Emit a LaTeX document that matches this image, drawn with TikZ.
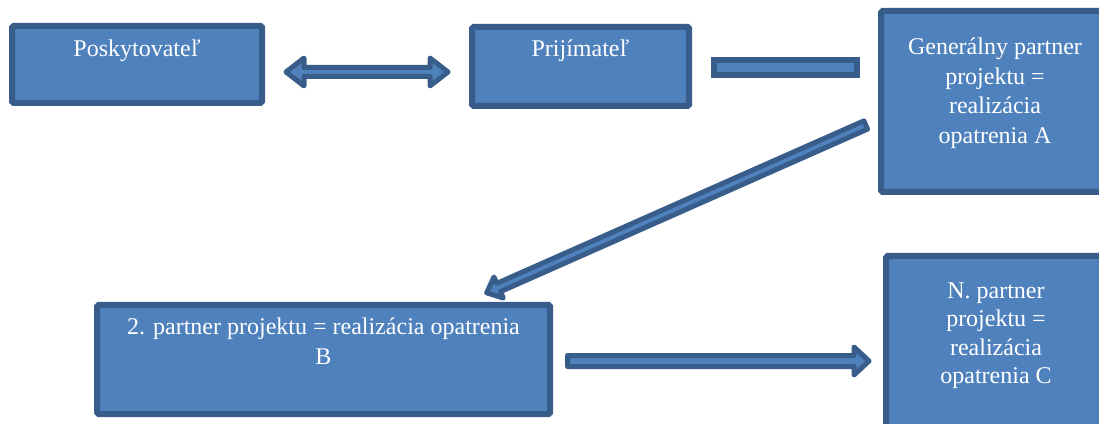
\documentclass[tikz,border=0pt]{standalone}
\usepackage{fontspec}
\setmainfont{Liberation Serif}
\usetikzlibrary{calc}
\definecolor{boxfill}{HTML}{4F81BD}
\definecolor{boxline}{HTML}{385D8A}
% single block arrow: #1 tail, #2 tip, #3 shaft half width, #4 head half width, #5 head length
\newcommand{\blkarrow}[5]{%
  \draw[barrow] let \p1=(#1), \p2=(#2), \n1={atan2(\y2-\y1,\x2-\x1)}, \n2={veclen(\x2-\x1,\y2-\y1)-#5} in
  ($(\p1)+(\n1+90:#3)$) -- ($(\p1)+(\n1:\n2)+(\n1+90:#3)$) -- ($(\p1)+(\n1:\n2)+(\n1+90:#4)$) -- (\p2)
  -- ($(\p1)+(\n1:\n2)+(\n1-90:#4)$) -- ($(\p1)+(\n1:\n2)+(\n1-90:#3)$) -- ($(\p1)+(\n1-90:#3)$) -- cycle;}
% double block arrow
\newcommand{\dblarrow}[5]{%
  \draw[barrow] let \p1=(#1), \p2=(#2), \n1={atan2(\y2-\y1,\x2-\x1)}, \n2={veclen(\x2-\x1,\y2-\y1)-#5} in
  (\p1) -- ($(\p1)+(\n1:#5)+(\n1+90:#4)$) -- ($(\p1)+(\n1:#5)+(\n1+90:#3)$) -- ($(\p1)+(\n1:\n2)+(\n1+90:#3)$)
  -- ($(\p1)+(\n1:\n2)+(\n1+90:#4)$) -- (\p2) -- ($(\p1)+(\n1:\n2)+(\n1-90:#4)$) -- ($(\p1)+(\n1:\n2)+(\n1-90:#3)$)
  -- ($(\p1)+(\n1:#5)+(\n1-90:#3)$) -- ($(\p1)+(\n1:#5)+(\n1-90:#4)$) -- cycle;}
\begin{document}
\begin{tikzpicture}[x=1pt,y=1pt,
  box/.style={draw=boxline, fill=boxfill, line width=6pt, rounded corners=1.5pt, inner sep=0pt},
  boxtext/.style={text=white, anchor=north, inner sep=0pt, align=center},
  barrow/.style={draw=boxline, fill=boxfill, line width=5pt, line join=round}]
\useasboundingbox (0,0) rectangle (1099,423);
\clip (0,0) rectangle (1099,423);
\fill[white] (0,0) rectangle (1099,423);
% boxes
\node[box, minimum width=250pt, minimum height=77pt] (posk) at (137,358.5) {};
\node[box, minimum width=217pt, minimum height=79pt] (prij) at (580.5,356.5) {};
\node[box, minimum width=226pt, minimum height=181pt] (gen) at (994,321.5) {};
\node[box, minimum width=221pt, minimum height=176pt] (npart) at (996.5,79) {};
\node[box, minimum width=453pt, minimum height=109pt] (part2) at (323.5,63.5) {};
% texts
\node[boxtext, font=\fontsize{24}{29}\selectfont] (poskt) at ([yshift=-13.5pt]posk.north) {\rule{0pt}{20pt}Poskytovateľ};
\node[boxtext, font=\fontsize{24}{29}\selectfont] (prijt) at ([yshift=-12.5pt]prij.north) {\rule{0pt}{20pt}Prijímateľ};
\node[boxtext, font=\fontsize{24}{29.5}\selectfont] (gent) at ([xshift=1pt,yshift=-26.5pt]gen.north) {\rule{0pt}{20pt}Generálny partner\\projektu =\\realizácia\\opatrenia A};
\node[boxtext, font=\fontsize{24}{28.5}\selectfont] (npartt) at ([xshift=-0.5pt,yshift=-25pt]npart.north) {\rule{0pt}{20pt}N. partner\\projektu =\\realizácia\\opatrenia C};
\node[boxtext, font=\fontsize{24}{30}\selectfont] (part2t) at ([yshift=-12.5pt]part2.north) {\rule{0pt}{20pt}2. partner projektu = realizácia opatrenia\\B};
% connectors
\node[box, rounded corners=0pt, minimum width=143pt, minimum height=15pt] (bar) at (785.5,355.5) {};
\coordinate (da1) at ([xshift=21pt,yshift=-7.5pt]posk.east);
\coordinate (da2) at ([xshift=-21pt,yshift=-5.5pt]prij.west);
\dblarrow{da1}{da2}{4.5}{14}{18}
\coordinate (dg1) at (865.7,298);
\coordinate (dg2) at (486.7,130.2);
\blkarrow{dg1}{dg2}{4.5}{11.5}{13}
\coordinate (bt1) at ([xshift=14.5pt,yshift=-1.5pt]part2.east);
\coordinate (bt2) at ([xshift=-14pt,yshift=-17pt]npart.west);
\blkarrow{bt1}{bt2}{5.5}{14}{15}
\end{tikzpicture}
\end{document}
